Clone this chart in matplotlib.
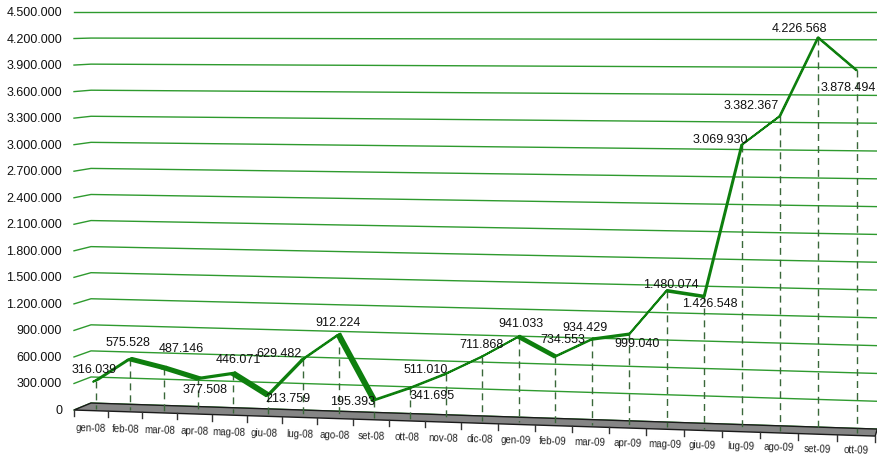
import numpy as np
import matplotlib.pyplot as plt
from matplotlib.patches import Polygon

plt.rcParams['font.family'] = ['Liberation Sans', 'DejaVu Sans']

months = ['gen-08', 'feb-08', 'mar-08', 'apr-08', 'mag-08', 'giu-08', 'lug-08',
          'ago-08', 'set-08', 'ott-08', 'nov-08', 'dic-08', 'gen-09', 'feb-09',
          'mar-09', 'apr-09', 'mag-09', 'giu-09', 'lug-09', 'ago-09', 'set-09',
          'ott-09']
values = [316039, 575528, 487146, 377508, 446071, 213759, 629482, 912224,
          195393, 341695, 511010, 711868, 941033, 734553, 934429, 999040,
          1480074, 1426548, 3069930, 3382367, 4226568, 3878494]
y_ticks = list(range(0, 4500001, 300000))

# label offsets (pixels) from each point, Excel placed them a bit randomly
lab_dx = [-2, -2, 17, 7, 5, 20, -24, 0, -22, 22, -20, -1, 2, 8, -7, 8, 4, 6, -22, -29, -19, -8]
lab_dy = [-12, -17, -20, 11, -14, 3, -6, -13, 1, 7, -5, -13, -14, -17, -12, 9, -7, 7, -6, -11, -10, 17]

VMAX = 4500000
n = len(months)


def fmt(v):
    return f'{v:,}'.replace(',', '.')


def proj(p, v, z):
    # fake 3D: p = category position, v = value, z = depth (0 front, 1 back)
    p = np.asarray(p, dtype=float)
    v = np.asarray(v, dtype=float)
    xf = 74 + 34 * p + 0.11 * p ** 2
    x = xf + z * (17 - 15 * p / n)
    y = 13 + (398 - 7 * z + 0.0325 * (xf - 73)) * (1 - v / VMAX)
    return x, y


fig = plt.figure(figsize=(8.77, 4.56), dpi=100)
ax = fig.add_axes([0, 0, 1, 1])
ax.set_xlim(0, 877)
ax.set_ylim(456, 0)
ax.axis('off')

# gridlines: left wall + back wall
for t in y_ticks:
    xs, ys = proj([0, 0, n], [t, t, t], np.array([0, 1, 1]))
    ax.plot(xs, ys, color='#2e9a2e', lw=1.0, zorder=1)
    lx, ly = proj(0, t, 0)
    ax.text(62, ly, fmt(t), ha='right', va='center', fontsize=9, color='#111111')

# floor
fx, fy = proj([0, n, n, 0], [0, 0, 0, 0], np.array([0, 0, 1, 1]))
ax.add_patch(Polygon(np.column_stack([fx, fy]), closed=True, facecolor='#858585',
                     edgecolor='#1a1a1a', lw=1.0, zorder=2))

# ticks and category labels under the floor
for k in range(n + 1):
    tx, ty = proj(k, 0, 0)
    ax.plot([tx, tx], [ty, ty + 6], color='#333333', lw=1.0, zorder=2)
for i, m in enumerate(months):
    cx, cy = proj(i + 0.5, 0, 0)
    ax.text(cx, cy + 16.5 - 3 * i / n, m, ha='center', va='center', fontsize=7,
            color='#222222', rotation=-1.8)

# drop lines
pos = np.arange(n) + 0.5
zs = 0.28
for i in range(n):
    xs, ys = proj([pos[i], pos[i]], [values[i], 0], zs)
    ax.plot(xs, ys, color='#3a683a', lw=1.0, dashes=(5, 3.6), zorder=3)

# 3D ribbon line
za, zb = 0.12, 0.44
for i in range(n - 1):
    x1, y1 = proj(pos[i:i + 2], values[i:i + 2], za)
    x2, y2 = proj(pos[i:i + 2], values[i:i + 2], zb)
    quad = [(x1[0], y1[0]), (x1[1], y1[1]), (x2[1], y2[1]), (x2[0], y2[0])]
    ax.add_patch(Polygon(quad, closed=True, facecolor='#0e7f0e', edgecolor='#0e7f0e',
                         lw=1.3, joinstyle='round', zorder=4))

# data labels
px, py = proj(pos, values, zs)
for i in range(n):
    ax.text(px[i] + lab_dx[i], py[i] + lab_dy[i], fmt(values[i]), ha='center',
            va='center', fontsize=9, color='#111111', zorder=5)

fig.savefig('out.png', dpi=100)
